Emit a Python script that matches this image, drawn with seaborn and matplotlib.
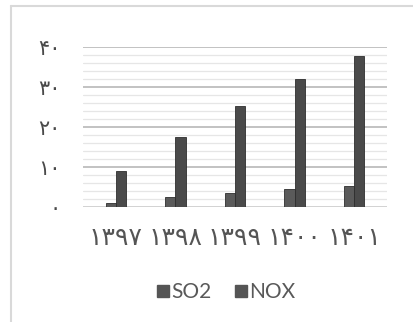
import pandas as pd
import seaborn as sns
import matplotlib

matplotlib.use("Agg")
import matplotlib.pyplot as plt
from matplotlib.lines import Line2D

years = ["۱۳۹۷", "۱۳۹۸", "۱۳۹۹", "۱۴۰۰", "۱۴۰۱"]
so2 = [1.0, 2.5, 3.5, 4.5, 5.2]
nox = [9.0, 17.5, 25.3, 32.0, 37.7]
yticks = [0, 10, 20, 30, 40]
ytick_labels = ["۰", "۱۰", "۲۰", "۳۰", "۴۰"]

df = pd.DataFrame({
    "year": years * 2,
    "value": so2 + nox,
    "series": ["SO2"] * len(years) + ["NOX"] * len(years),
})

sns.set_style("white")
plt.rcParams["font.family"] = ["Lato", "DejaVu Sans"]

fig = plt.figure(figsize=(4.13, 3.22), dpi=100)
ax = fig.add_axes([0.201, 0.357, 0.736, 0.497])

# minor grid every 2, major every 10
for v in range(2, 42, 2):
    if v % 10 == 0:
        ax.axhline(v, color="#bdbdbd", lw=1.3, zorder=0)
    else:
        ax.axhline(v, color="#e6e6e6", lw=0.9, zorder=0)
ax.axhline(0, color="#cfcfcf", lw=1.3, zorder=0)

sns.barplot(
    data=df, x="year", y="value", hue="series",
    palette={"SO2": "#5a5a5a", "NOX": "#4a4a4a"},
    width=0.34, edgecolor="#2e2e2e", linewidth=0.6,
    ax=ax, zorder=3, legend=False,
)

ax.set_ylim(0, 40)
ax.set_xlim(-0.55, 4.55)
ax.set_yticks(yticks)
ax.set_yticklabels(ytick_labels, family=["DejaVu Sans"], fontsize=15, color="#4a4a4a")
ax.set_xticks(range(len(years)))
ax.set_xticklabels(years, family=["DejaVu Sans"], fontsize=18, color="#555555")
ax.tick_params(axis="y", length=0, pad=16)
ax.tick_params(axis="x", length=0, pad=14)
ax.set_xlabel("")
ax.set_ylabel("")
for s in ax.spines.values():
    s.set_visible(False)

handles = [Line2D([], [], marker="s", ls="", color="#555555", markersize=9),
           Line2D([], [], marker="s", ls="", color="#555555", markersize=9)]
fig.legend(handles, ["SO2", "NOX"], loc="center", bbox_to_anchor=(0.54, 0.093),
           ncol=2, frameon=False, fontsize=15, handletextpad=-0.2,
           handlelength=1.2, columnspacing=0.8, labelcolor="#595959")

# chart frame: top and left edges only
fig.add_artist(Line2D([11 / 413, 1], [1 - 6 / 322, 1 - 6 / 322], color="#d9d9d9", lw=1.5))
fig.add_artist(Line2D([11 / 413, 11 / 413], [0, 1 - 6 / 322], color="#d9d9d9", lw=1.5))

fig.savefig("out.png", dpi=100)
